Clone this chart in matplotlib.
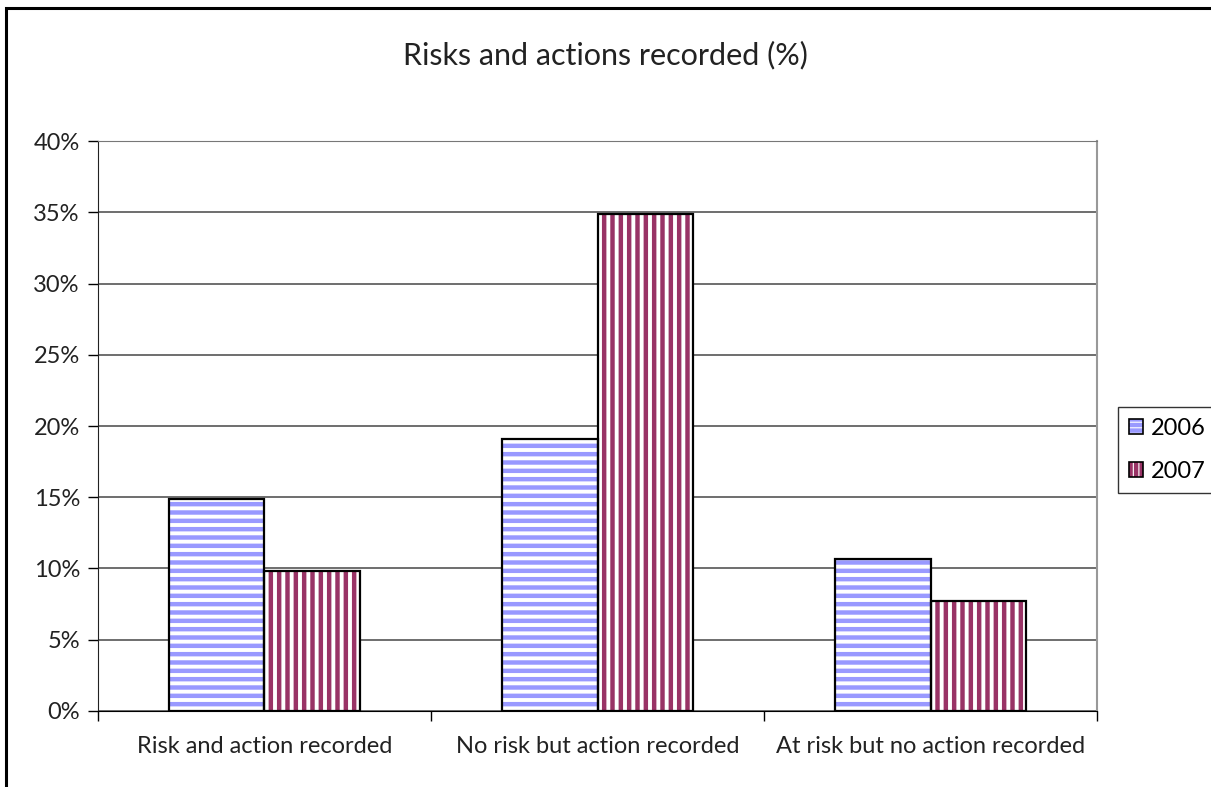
import numpy as np
import matplotlib
matplotlib.use("Agg")
import matplotlib.pyplot as plt
from matplotlib.patches import Patch, Rectangle
from matplotlib.ticker import MultipleLocator, FuncFormatter

# Daten
categories = ["Risk and action recorded", "No risk but action recorded", "At risk but no action recorded"]
years = ["2006", "2007"]
v2006 = [14.9, 19.1, 10.7]
v2007 = [9.8, 34.9, 7.7]

blue = "#9999ff"
red = "#993366"

plt.rcParams["font.family"] = ["Lato", "DejaVu Sans"]
plt.rcParams["hatch.linewidth"] = 3.2

fig = plt.figure(figsize=(12.11, 7.87), dpi=100)
ax = fig.add_axes([0.0809, 0.0966, 0.8250, 0.7242])

x = np.arange(len(categories))
w = 1 / 3.5

# Balken: Schraffur und Rahmen getrennt
for vals, off, col, hat in [(v2006, -w / 2, blue, "--"), (v2007, w / 2, red, "||")]:
    ax.bar(x + off, vals, w, color="white", edgecolor=col, hatch=hat, linewidth=0, zorder=3)
    ax.bar(x + off, vals, w, facecolor="none", edgecolor="black", linewidth=1.6, zorder=4)

ax.set_xlim(-0.5, 2.5)
ax.set_ylim(0, 40)
ax.yaxis.set_major_locator(MultipleLocator(5))
ax.yaxis.set_major_formatter(FuncFormatter(lambda v, p: f"{v:.0f}%"))
ax.grid(axis="y", color="#555555", linewidth=1.2, zorder=0)

ax.set_xticks([-0.5, 0.5, 1.5, 2.5])
ax.set_xticklabels([])
ax.set_xticks(x, minor=True)
ax.set_xticklabels(categories, minor=True)
ax.tick_params(axis="x", which="minor", length=0, pad=18, labelsize=17, labelcolor="#222222")
ax.tick_params(axis="x", which="major", length=7, width=1, direction="out")
ax.tick_params(axis="y", length=7, width=1, pad=6, labelsize=17, labelcolor="#222222")

ax.spines["left"].set_color("#222222")
ax.spines["bottom"].set_color("black")
ax.spines["top"].set_color("#777777")
ax.spines["right"].set_color("#999999")
ax.spines["right"].set_linewidth(1.5)

fig.text(0.4996, 0.930, "Risks and actions recorded (%)", ha="center", va="center",
         fontsize=22, color="#222222")

handles = [(Patch(facecolor="white", edgecolor=blue, hatch="---", linewidth=0),
            Patch(facecolor="none", edgecolor="black", linewidth=1.2)),
           (Patch(facecolor="white", edgecolor=red, hatch="|||", linewidth=0),
            Patch(facecolor="none", edgecolor="black", linewidth=1.2))]
leg = fig.legend(handles, years, loc="center", bbox_to_anchor=(0.9641, 0.4282),
                 fontsize=17, frameon=True, fancybox=False, edgecolor="black",
                 handlelength=0.6, handleheight=0.6, handletextpad=0.35,
                 labelspacing=0.95, borderpad=0.45, borderaxespad=0)
leg.get_frame().set_linewidth(1.0)

# Rahmen um das Diagramm (nur oben und links sichtbar)
fig.patches.append(Rectangle((6 / 1211, -0.1), 1.2, 1.1 - 8 / 787,
                             transform=fig.transFigure, fill=False, edgecolor="black",
                             linewidth=2.2, clip_on=False))

fig.savefig("out.png", dpi=100)
